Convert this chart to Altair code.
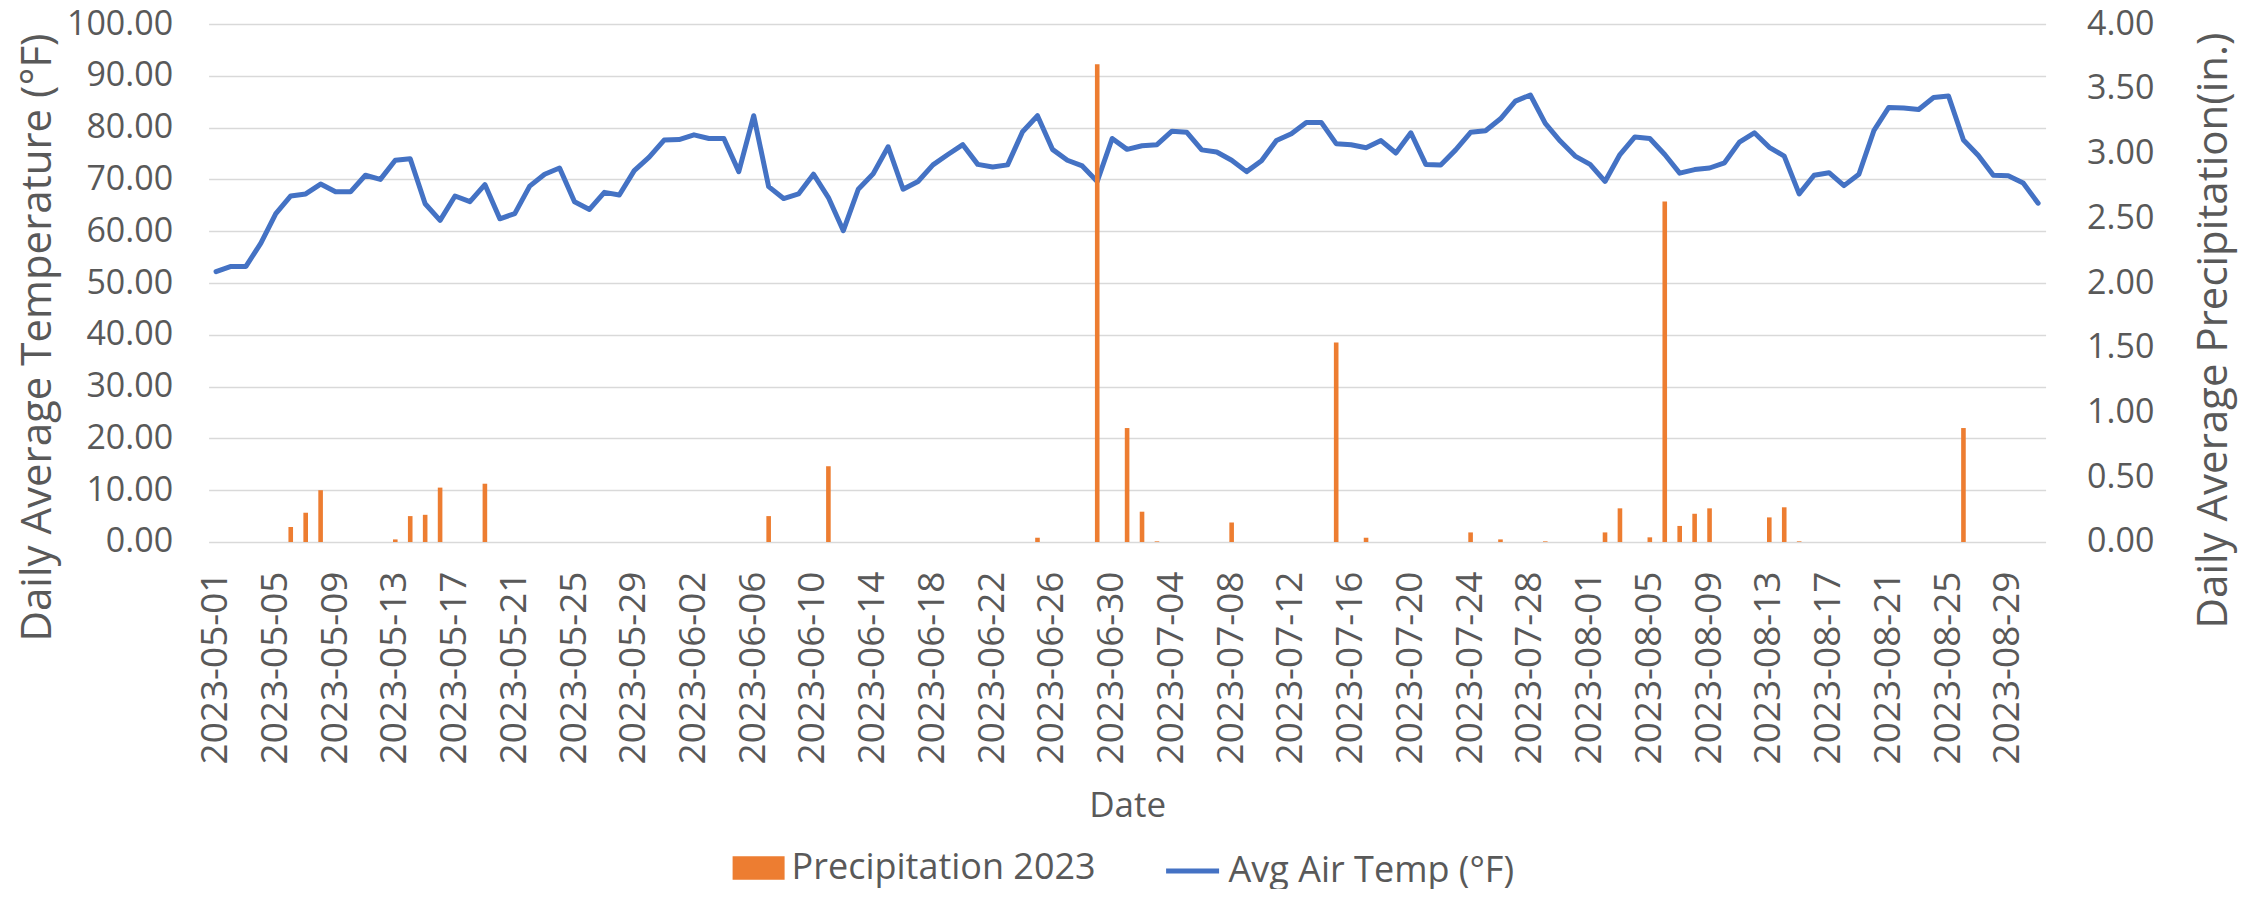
import altair as alt
import pandas as pd

dates = [d.strftime("%Y-%m-%d") for d in pd.date_range("2023-05-01", "2023-08-31")]

avg_temp = [
    52.2, 53.2, 53.2, 57.7, 63.4, 66.8, 67.2, 69.1, 67.6, 67.6,
    70.8, 70.0, 73.7, 74.0, 65.3, 62.1, 66.8, 65.7, 69.0, 62.4,
    63.4, 68.7, 71.0, 72.2, 65.7, 64.2, 67.5, 67.0, 71.7, 74.3,
    77.6, 77.7, 78.6, 77.9, 77.9, 71.5, 82.3, 68.6, 66.3, 67.2,
    71.0, 66.5, 60.1, 68.1, 71.1, 76.3, 68.1, 69.6, 72.8, 74.8,
    76.7, 72.9, 72.4, 72.8, 79.2, 82.3, 75.8, 73.7, 72.6, 69.6,
    77.9, 75.8, 76.5, 76.7, 79.3, 79.1, 75.7, 75.3, 73.7, 71.5,
    73.6, 77.5, 78.8, 81.0, 81.0, 76.9, 76.7, 76.1, 77.5, 75.1,
    79.0, 72.9, 72.8, 75.7, 79.1, 79.4, 81.7, 85.1, 86.3, 80.8,
    77.4, 74.5, 72.9, 69.6, 74.8, 78.2, 77.9, 74.8, 71.2, 71.9,
    72.2, 73.2, 77.2, 79.0, 76.2, 74.5, 67.2, 70.8, 71.3, 68.8,
    71.0, 79.4, 83.9, 83.8, 83.5, 85.8, 86.1, 77.6, 74.6, 70.8,
    70.7, 69.3, 65.4,
]

rain_days = [
    "2023-05-06", "2023-05-07", "2023-05-08", "2023-05-13", "2023-05-14",
    "2023-05-15", "2023-05-16", "2023-05-19", "2023-06-07", "2023-06-11",
    "2023-06-25", "2023-06-29", "2023-07-01", "2023-07-02", "2023-07-03",
    "2023-07-08", "2023-07-15", "2023-07-17", "2023-07-24", "2023-07-26",
    "2023-07-29", "2023-08-02", "2023-08-03", "2023-08-05", "2023-08-06",
    "2023-08-07", "2023-08-08", "2023-08-09", "2023-08-13", "2023-08-14",
    "2023-08-15", "2023-08-26",
]
rain_inches = [
    0.116, 0.226, 0.40, 0.02, 0.20,
    0.21, 0.42, 0.45, 0.20, 0.585,
    0.033, 3.69, 0.88, 0.234, 0.005,
    0.15, 1.54, 0.033, 0.074, 0.02,
    0.005, 0.074, 0.26, 0.036, 2.63,
    0.124, 0.218, 0.26, 0.19, 0.268,
    0.005, 0.88,
]

temp_ticks = [0, 10, 20, 30, 40, 50, 60, 70, 80, 90, 100]
precip_ticks = [0, 0.5, 1.0, 1.5, 2.0, 2.5, 3.0, 3.5, 4.0]
label_dates = dates[::4]

rain_map = dict(zip(rain_days, rain_inches))
df = pd.DataFrame({
    "Date": dates,
    "Temp": avg_temp,
    "Precip": [rain_map.get(d, 0.0) for d in dates],
    "BarSeries": ["Precipitation 2023"] * len(dates),
    "LineSeries": ["Avg Air Temp (°F)"] * len(dates),
})

FONT = "Open Sans"
GREY = "#595959"
ORANGE = "#ED7D31"
BLUE = "#4472C4"

x_enc = alt.X(
    "Date:O",
    scale=alt.Scale(domain=dates, paddingInner=0, paddingOuter=0),
    axis=alt.Axis(
        values=label_dates, labelAngle=270, labelFontSize=37, labelPadding=29,
        labelColor=GREY, labelFont=FONT, labelLimit=500, ticks=False, tickSize=0,
        domain=False, grid=False, title="Date", titleFont=FONT, titleFontSize=35,
        titleFontWeight="normal", titleColor=GREY, titleY=275,
        titleBaseline="alphabetic",
    ),
)

bars = alt.Chart(df).mark_bar(size=4.6).encode(
    x=x_enc,
    y=alt.Y(
        "Precip:Q",
        scale=alt.Scale(domain=[0, 4], nice=False),
        axis=alt.Axis(
            orient="right", values=precip_ticks, format=".2f", labelFontSize=34,
            labelPadding=41, labelColor=GREY, labelFont=FONT, ticks=False,
            tickSize=0, domain=False, grid=False,
            title="Daily Average Precipitation(in.)", titleFont=FONT,
            titleFontSize=42, titleFontWeight="normal", titleColor=GREY,
            titleAngle=270, titleX=181, titleY=306, titleAlign="center",
            titleBaseline="alphabetic", titleLimit=1000,
        ),
    ),
    color=alt.Color(
        "BarSeries:N",
        scale=alt.Scale(domain=["Precipitation 2023"], range=[ORANGE]),
        legend=alt.Legend(
            title=None, orient="none", legendX=524, legendY=818,
            symbolType="M-1,-0.45L1,-0.45L1,0.45L-1,0.45Z", symbolSize=2704,
            symbolStrokeWidth=0, labelFont=FONT, labelFontSize=36,
            labelColor=GREY, labelOffset=7, labelLimit=600, padding=0,
        ),
    ),
)

line = alt.Chart(df).mark_line(strokeWidth=5, strokeJoin="round", strokeCap="round").encode(
    x=x_enc,
    y=alt.Y(
        "Temp:Q",
        scale=alt.Scale(domain=[0, 100], nice=False),
        axis=alt.Axis(
            orient="left", values=temp_ticks, format=".2f", labelFontSize=34,
            labelPadding=36, labelColor=GREY, labelFont=FONT, ticks=False,
            tickSize=0, domain=False, grid=True, gridColor="#D9D9D9",
            gridWidth=1.6, title="Daily Average Temperature (°F)",
            titleFont=FONT, titleFontSize=42, titleFontWeight="normal",
            titleColor=GREY, titleAngle=270, titleX=-158, titleY=313,
            titleAlign="center", titleBaseline="alphabetic", titleLimit=1000,
        ),
    ),
    color=alt.Color(
        "LineSeries:N",
        scale=alt.Scale(domain=["Avg Air Temp (°F)"], range=[BLUE]),
        legend=alt.Legend(
            title=None, orient="none", legendX=955, legendY=818,
            symbolType="stroke", symbolSize=2809, symbolStrokeWidth=5,
            labelFont=FONT, labelFontSize=36, labelColor=GREY, labelOffset=7,
            labelLimit=600, padding=0,
        ),
    ),
)

chart = (
    alt.layer(line, bars)
    .resolve_scale(y="independent", color="independent")
    .properties(
        width=1837, height=518,
        autosize=alt.AutoSizeParams(type="none"),
        padding={"left": 200.6, "top": 16, "right": 200, "bottom": 347},
        background="white",
    )
    .configure_view(stroke=None)
)

chart.save("out.html", embed_options={"renderer": "svg", "actions": False})
